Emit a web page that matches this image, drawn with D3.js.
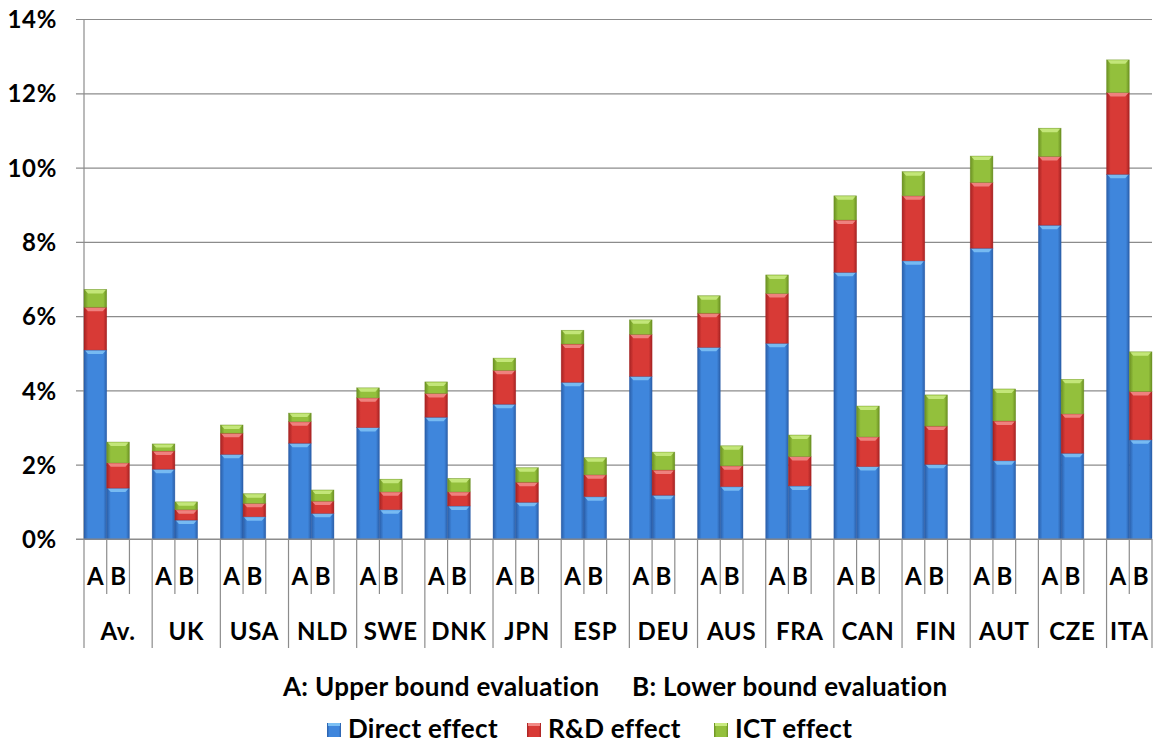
<!DOCTYPE html>
<html>
<head>
<meta charset="utf-8">
<script src="https://cdn.jsdelivr.net/npm/d3@7/dist/d3.min.js"></script>
<style>
  html, body { margin: 0; padding: 0; background: #fff; }
  svg { display: block; }
  text { font-family: Lato, "Open Sans", sans-serif; font-weight: bold; fill: #000; }
</style>
</head>
<body>
<svg id="chart" width="1157" height="744"></svg>
<script>
// ---- data ----
const countries = ["Av.", "UK", "USA", "NLD", "SWE", "DNK", "JPN", "ESP", "DEU", "AUS", "FRA", "CAN", "FIN", "AUT", "CZE", "ITA"];
const bounds = ["A", "B"];
// A: upper bound evaluation (%)
const directA = [5.09, 1.88, 2.28, 2.58, 3.00, 3.28, 3.63, 4.22, 4.38, 5.16, 5.27, 7.18, 7.49, 7.83, 8.45, 9.82];
const rdA     = [1.15, 0.49, 0.57, 0.58, 0.80, 0.64, 0.91, 1.03, 1.13, 0.92, 1.34, 1.41, 1.75, 1.77, 1.85, 2.20];
const ictA    = [0.48, 0.19, 0.22, 0.23, 0.27, 0.31, 0.33, 0.37, 0.39, 0.47, 0.50, 0.65, 0.65, 0.71, 0.76, 0.88];
// B: lower bound evaluation (%)
const directB = [1.37, 0.51, 0.60, 0.69, 0.79, 0.89, 0.99, 1.14, 1.18, 1.41, 1.43, 1.95, 2.01, 2.11, 2.31, 2.67];
const rdB     = [0.68, 0.28, 0.36, 0.33, 0.48, 0.38, 0.54, 0.59, 0.68, 0.56, 0.79, 0.80, 1.03, 1.07, 1.06, 1.30];
const ictB    = [0.56, 0.21, 0.26, 0.30, 0.34, 0.36, 0.39, 0.46, 0.48, 0.54, 0.58, 0.83, 0.84, 0.86, 0.93, 1.07];
const seriesNames = ["Direct effect", "R&D effect", "ICT effect"];
const yTicks = [0, 2, 4, 6, 8, 10, 12, 14];
const noteA = "A: Upper bound evaluation";
const noteB = "B: Lower bound evaluation";

(function () {
const slots = [];
const rows = [];
countries.forEach((c, i) => {
  slots.push(c + "|A"); rows.push({slot: c + "|A", direct: directA[i], rd: rdA[i], ict: ictA[i]});
  slots.push(c + "|B"); rows.push({slot: c + "|B", direct: directB[i], rd: rdB[i], ict: ictB[i]});
  if (i < countries.length - 1) slots.push(c + "|gap");
});

const svg = d3.select("#chart");
const pLeft = 84, pRight = 1152, pTop = 19, pBottom = 539;
const axisFont = "24px", axisLS = "0.7px";
const legFont = "26px", legLS = "0.3px";

const x = d3.scaleBand().domain(slots).range([pLeft, pRight]).paddingInner(0).paddingOuter(0);
const y = d3.scaleLinear().domain([0, 14]).range([pBottom, pTop]);

// ---- gradients ----
const defs = svg.append("defs");
const pal = [
  {id: "gBlue", edge: "#2a5ea8", mid: "#3f86dc", hi: "#7cc0f4"},
  {id: "gRed", edge: "#a52222", mid: "#d83a36", hi: "#f28a86"},
  {id: "gGreen", edge: "#6a8f22", mid: "#93c03c", hi: "#c9ea80"}
];
pal.forEach(p => {
  const g = defs.append("linearGradient").attr("id", p.id).attr("x1", "0").attr("x2", "1").attr("y1", "0").attr("y2", "0");
  g.append("stop").attr("offset", "0%").attr("stop-color", p.edge);
  g.append("stop").attr("offset", "18%").attr("stop-color", p.mid);
  g.append("stop").attr("offset", "85%").attr("stop-color", p.mid);
  g.append("stop").attr("offset", "100%").attr("stop-color", p.edge);
});

// ---- gridlines & y axis ----
const yAxis = d3.axisLeft(y).tickValues(yTicks).tickFormat(d => d + "%").tickSize(-(pRight - pLeft)).tickPadding(0);
const gy = svg.append("g").attr("transform", `translate(${pLeft},0)`).call(yAxis);
gy.select(".domain").remove();
gy.selectAll(".tick line").attr("x1", -8).attr("stroke", "#8c8c8c").attr("stroke-width", 1.2);
gy.selectAll(".tick text").attr("x", -27).attr("dy", "0.36em")
  .style("font-size", axisFont).style("letter-spacing", axisLS)
  .style("font-family", "Lato, sans-serif").style("font-weight", "bold").attr("fill", "#000");
gy.append("line").attr("x1", 0).attr("x2", 0).attr("y1", pTop).attr("y2", pBottom).attr("stroke", "#8c8c8c").attr("stroke-width", 1.2);

// ---- stacked bars ----
const stacked = d3.stack().keys(["direct", "rd", "ict"])(rows);
const gBars = svg.append("g");
stacked.forEach((layer, li) => {
  const p = pal[li];
  const g = gBars.append("g");
  g.selectAll("rect").data(layer).join("rect")
    .attr("x", d => x(d.data.slot))
    .attr("width", x.bandwidth())
    .attr("y", d => y(d[1]))
    .attr("height", d => y(d[0]) - y(d[1]))
    .attr("fill", `url(#${p.id})`)
    .attr("stroke", p.edge).attr("stroke-width", 0.6).attr("stroke-opacity", 0.6);
  g.selectAll("path.hl").data(layer).join("path").attr("class", "hl")
    .attr("d", d => {
      const x0 = x(d.data.slot), x1 = x0 + x.bandwidth(), yt = y(d[1]);
      const h = Math.min(4, (y(d[0]) - y(d[1])) / 2);
      return `M${x0 + 1},${yt + 0.5}L${x1 - 1},${yt + 0.5}L${x1 - 4},${yt + h}L${x0 + 4},${yt + h}Z`;
    })
    .attr("fill", p.hi).attr("opacity", 0.9);
});

// ---- x axis (multi-level) ----
const gx = svg.append("g");
gx.append("line").attr("x1", pLeft - 8).attr("x2", pRight).attr("y1", pBottom).attr("y2", pBottom).attr("stroke", "#8c8c8c").attr("stroke-width", 1.2);
const boundaries = slots.map(s => x(s)).concat([pRight]);
const groupStarts = countries.map(c => x(c + "|A"));
boundaries.forEach(bx => {
  const isGroup = groupStarts.some(g => Math.abs(g - bx) < 0.5) || Math.abs(bx - pRight) < 0.5;
  gx.append("line").attr("x1", bx).attr("x2", bx).attr("y1", pBottom).attr("y2", isGroup ? 648 : 594)
    .attr("stroke", "#8c8c8c").attr("stroke-width", 1.2);
});
countries.forEach(c => {
  bounds.forEach(b => {
    gx.append("text").attr("x", x(c + "|" + b) + x.bandwidth() / 2).attr("y", 585)
      .attr("text-anchor", "middle").style("font-size", axisFont).text(b);
  });
  const gs = x(c + "|A");
  const ge = c === countries[countries.length - 1] ? pRight : x(c + "|gap") + x.bandwidth();
  gx.append("text").attr("x", (gs + ge) / 2).attr("y", 640)
    .attr("text-anchor", "middle").style("font-size", axisFont).style("letter-spacing", axisLS).text(c);
});

// ---- legend ----
svg.append("text").attr("x", 283).attr("y", 696).style("font-size", legFont).style("letter-spacing", legLS).text(noteA);
svg.append("text").attr("x", 632).attr("y", 696).style("font-size", legFont).style("letter-spacing", legLS).text(noteB);
const legX = [327, 527, 714];
seriesNames.forEach((n, i) => {
  const p = pal[i];
  svg.append("rect").attr("x", legX[i]).attr("y", 723).attr("width", 14).attr("height", 14).attr("fill", `url(#${p.id})`);
  svg.append("rect").attr("x", legX[i] + 1).attr("y", 723).attr("width", 12).attr("height", 3).attr("fill", p.hi);
  svg.append("text").attr("x", legX[i] + 21).attr("y", 738).style("font-size", legFont).style("letter-spacing", legLS).text(n);
});
})();
</script>
</body>
</html>
